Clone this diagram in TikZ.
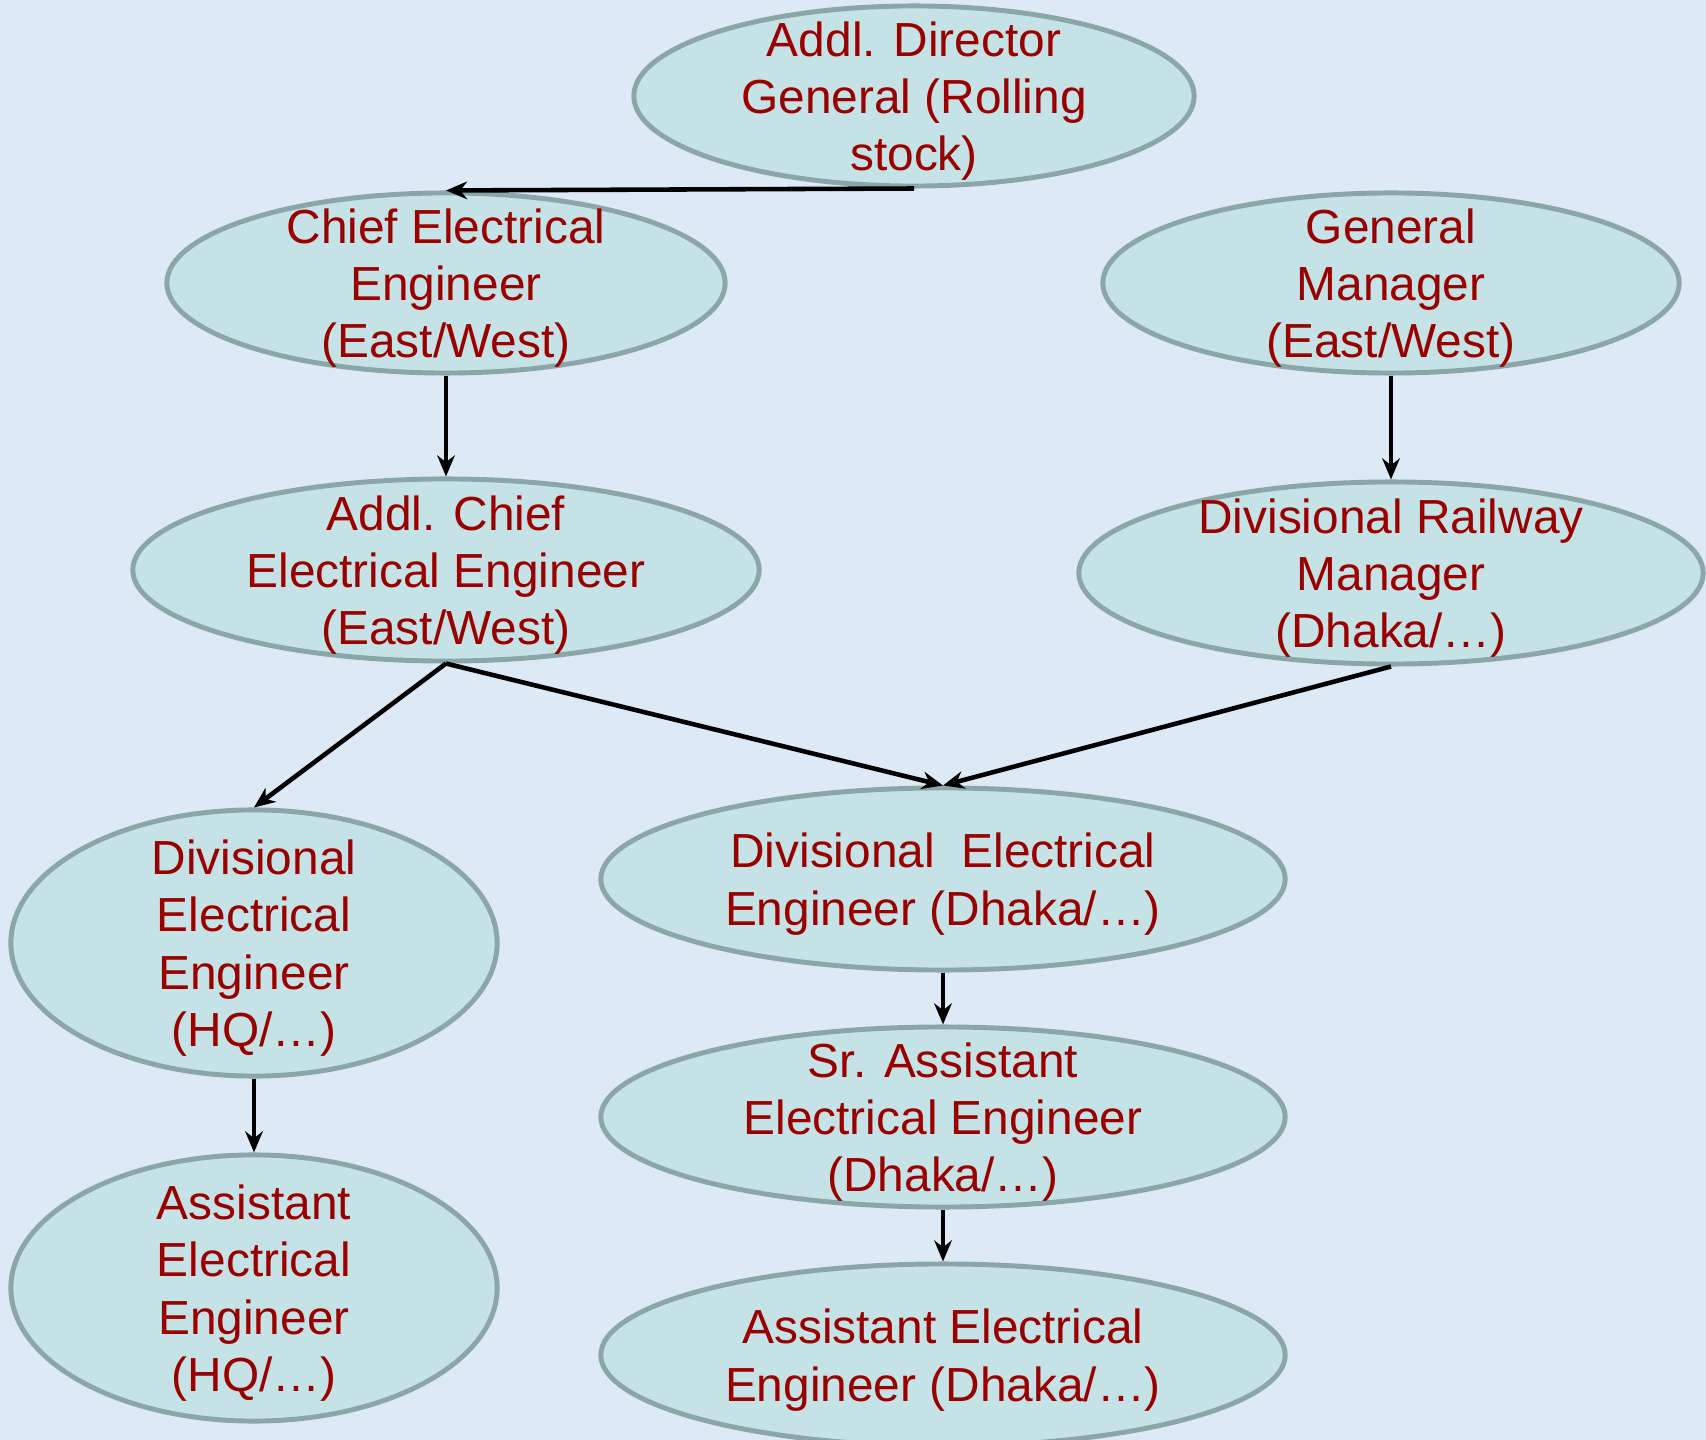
\documentclass[tikz,border=0pt]{standalone}
\usepackage{fontspec}
\setmainfont{Liberation Sans}
\usepackage{xcolor}
\definecolor{bgblue}{RGB}{221,233,245}
\definecolor{ovalfill}{RGB}{197,226,230}
\definecolor{ovaledge}{RGB}{138,166,166}
\definecolor{textred}{RGB}{153,0,0}
\usepackage{tikz}
\usetikzlibrary{arrows.meta,shapes.geometric,positioning}

\begin{document}
\begin{tikzpicture}[x=0.01cm,y=-0.01cm,>={Stealth[length=6pt,width=5pt]},
    post/.style={ellipse,draw=ovaledge,line width=1.4pt,fill=ovalfill,inner sep=0pt},
    posttext/.style={text=textred,align=center,inner sep=0pt,yshift=-1.5pt,
        font=\fontsize{13.6}{16.3}\selectfont},
    link/.style={->,line width=1.3pt}]
            % Background
            \fill[bgblue] (0,0) rectangle (1706,1440);
            \useasboundingbox (0,0) rectangle (1706,1440);
            % Posts
            \node[post,minimum width=5.6cm,minimum height=1.8cm,
                label={[posttext]center:{Addl. Director\\General (Rolling\\stock)}}] (adg) at (914,96) {};
            \node[post,minimum width=5.58cm,minimum height=1.8cm,
                label={[posttext]center:{Chief Electrical\\Engineer\\(East/West)}}] (cee) at (446,283) {};
            \node[post,minimum width=5.76cm,minimum height=1.8cm,
                label={[posttext]center:{General\\Manager\\(East/West)}}] (gm) at (1391,283) {};
            \node[post,minimum width=6.26cm,minimum height=1.82cm,
                label={[posttext]center:{Addl. Chief\\Electrical Engineer\\(East/West)}}] (acee) at (446,570) {};
            \node[post,minimum width=6.24cm,minimum height=1.82cm,
                label={[posttext]center:{Divisional Railway\\Manager\\(Dhaka/\dots)}}] (drm) at (1391,573) {};
            \node[post,minimum width=4.86cm,minimum height=2.66cm,
                label={[posttext]center:{Divisional\\Electrical\\Engineer\\(HQ/\dots)}}] (deehq) at (254,943) {};
            \node[post,minimum width=6.84cm,minimum height=1.82cm,
                label={[posttext]center:{Divisional~ Electrical\\Engineer (Dhaka/\dots)}}] (deedk) at (943,879) {};
            \node[post,minimum width=6.84cm,minimum height=1.8cm,
                label={[posttext]center:{Sr. Assistant\\Electrical Engineer\\(Dhaka/\dots)}}] (saee) at (943,1117) {};
            \node[post,minimum width=4.86cm,minimum height=2.66cm,
                label={[posttext]center:{Assistant\\Electrical\\Engineer\\(HQ/\dots)}}] (aeehq) at (254,1288) {};
            \node[post,minimum width=6.84cm,minimum height=1.82cm,
                label={[posttext]center:{Assistant Electrical\\Engineer (Dhaka/\dots)}}] (aeedk) at (943,1355) {};
            % Reporting lines
            \draw[link] (adg.south) -- (cee.north);
            \draw[link] (cee.south) -- (acee.north);
            \draw[link] (gm.south) -- (drm.north);
            \draw[link] (acee.south) -- (deehq.north);
            \draw[link] (acee.south) -- (deedk.north);
            \draw[link] (drm.south) -- (deedk.north);
            \draw[link] (deehq.south) -- (aeehq.north);
            \draw[link] (deedk.south) -- (saee.north);
            \draw[link] (saee.south) -- (aeedk.north);
\end{tikzpicture}
\end{document}
